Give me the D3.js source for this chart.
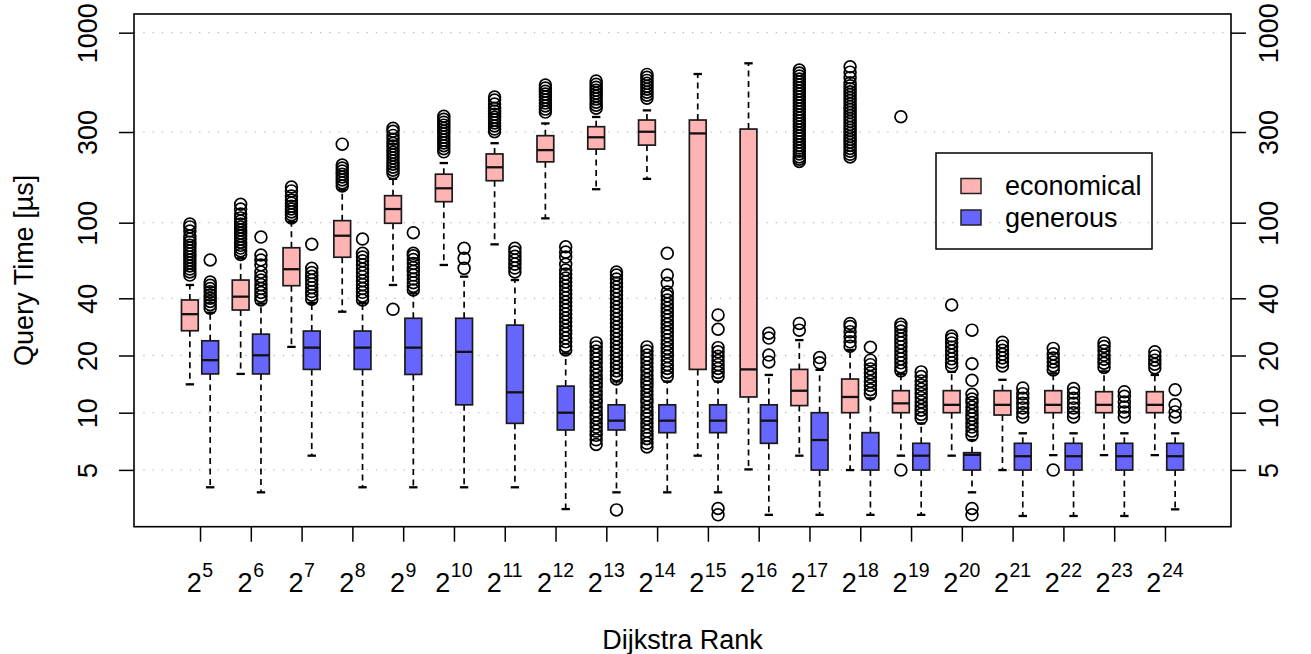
<!DOCTYPE html>
<html>
<head>
<meta charset="utf-8">
<script src="https://cdn.jsdelivr.net/npm/d3@7"></script>
<style>
body { margin: 0; background: #fff; }
svg { display: block; font-family: "Liberation Sans", Arial, sans-serif; }
</style>
</head>
<body>
<div id="chart"></div>
<script>
// Dijkstra rank exponents (2^k)
var ranks = [5, 6, 7, 8, 9, 10, 11, 12, 13, 14, 15, 16, 17, 18, 19, 20, 21, 22, 23, 24];
var yTicks = [5, 10, 20, 40, 100, 300, 1000];
var seriesNames = ["economical", "generous"];
var seriesColors = ["#FFB3B3", "#6666FF"];

// economical: whisker low, Q1, median, Q3, whisker high
var econLow  = [14.1, 16.0, 22.2, 34.0, 47.0, 59.9, 76.9, 105.4, 150, 170, 5.94, 5.03, 5.94, 4.99, 5.94, 5.94, 4.99, 5.98, 5.98, 5.98];
var econQ1   = [27.0, 34.7, 46.6, 65.8, 99.3, 129, 166.3, 209, 244, 256, 16.9, 12.1, 10.9, 10, 10, 10, 9.72, 10, 10, 10];
var econMed  = [33.0, 40.8, 56.9, 85.4, 118, 151.7, 195.7, 241, 281.5, 301, 295, 16.9, 13.05, 12.1, 11.2, 11.0, 11.0, 11.0, 11.0, 11.0];
var econQ3   = [39.2, 49.9, 73.8, 102.5, 138.7, 180, 230, 287, 320, 347, 347, 311, 16.9, 15.04, 13.06, 13.06, 13.06, 13.06, 12.9, 12.9];
var econHigh = [47.0, 65, 101, 149, 170, 206, 262, 333, 360, 390, 606, 690, 24.1, 21.4, 16, 16.4, 14.9, 16.1, 16.5, 15.8];
var econOut = [
    [53, 55, 57, 59.2, 61.4, 63.6, 66, 68.4, 71, 73.5, 76, 79, 82, 85, 90.4, 95, 98.3],
    [68, 71, 73.5, 76, 79, 82, 85, 88, 91.5, 95, 98.5, 102, 106, 111, 118, 125],
    [106, 110, 114, 118, 122, 127, 131.5, 138, 147, 154],
    [156, 162, 168, 174, 180, 187, 194, 201, 259],
    [35, 182, 189, 196, 203, 211, 219, 227, 235, 244, 253, 262, 275, 288, 303, 314],
    [236, 245, 254, 263, 272, 282, 293, 303, 314, 326, 338, 350, 363],
    [301, 311, 323, 335, 347, 359, 372, 386, 400, 421, 442, 458],
    [382, 396, 411, 426, 442, 458, 475, 492, 511, 530],
    [6.8, 7.2, 7.6, 8.0, 8.4, 8.8, 9.3, 9.7, 10.2, 10.7, 11.3, 11.8, 12.4, 13, 13.7, 14.3, 15, 15.8, 16.6, 17.4, 18.3, 19.2, 20.1, 21.1, 22.2, 23.3,
     400, 415, 431, 447, 463, 480, 498, 516, 535, 556],
    [6.6, 6.9, 7.3, 7.6, 8.0, 8.4, 8.8, 9.3, 9.7, 10.2, 10.7, 11.3, 11.8, 12.4, 13, 13.7, 14.3, 15, 15.8, 16.6, 17.4, 18.3, 19.2, 20.1, 21.1, 22.2,
     452, 469, 486, 504, 522, 541, 561, 582, 603],
    [],
    [],
    [27.2, 29.5, 210, 216, 222, 230, 238, 247, 256, 266, 276, 286, 296, 307, 319, 331, 343, 355, 369, 382, 396, 411, 426, 442, 458, 475, 493, 511, 530, 550, 570, 591, 613, 636],
    [22.4, 23.6, 25.1, 26.7, 28.4, 29.5, 222, 229, 238, 246, 255, 265, 274, 284, 295, 306, 317, 329, 341, 353, 366, 380, 394, 408, 423, 439, 455, 472, 489, 507, 526, 545, 580, 620, 662],
    [4.99, 16.6, 17.4, 18.3, 19.2, 20.1, 21.1, 22.2, 23.3, 24.4, 25.6, 26.9, 28.2, 29.2, 361],
    [17.5, 18.3, 19.2, 20.1, 21.1, 22.2, 23.3, 24.4, 25.3, 36.9],
    [17.6, 18.5, 19.4, 20.3, 21.3, 22.4, 23.5],
    [4.99, 16.8, 17.6, 18.5, 19.4, 20.4, 21.8],
    [17.3, 18.2, 19.1, 20.1, 21.2, 22.3, 23.3],
    [17.2, 18.0, 18.9, 19.9, 20.9]
];

// generous
var genLow  = [4.05, 3.81, 5.94, 4.05, 4.05, 4.05, 4.05, 3.11, 3.81, 3.81, 3.81, 2.9, 2.9, 2.9, 2.9, 3.81, 2.86, 2.86, 2.86, 3.1];
var genQ1   = [16.0, 16.0, 16.9, 16.9, 15.9, 11.0, 8.79, 8.11, 8.11, 7.85, 7.85, 6.9, 4.99, 4.99, 4.99, 4.99, 4.99, 4.99, 4.99, 4.99];
var genMed  = [18.9, 20.05, 22.0, 22.0, 22.0, 20.9, 12.8, 10, 9.08, 9.08, 9.08, 9.08, 7.18, 5.94, 5.94, 6.0, 5.9, 5.9, 5.9, 5.9];
var genQ3   = [23.9, 25.9, 26.9, 26.9, 31.4, 31.4, 28.9, 13.8, 11.0, 11.0, 11.0, 11.0, 10, 7.85, 6.9, 6.16, 6.9, 6.9, 6.9, 6.9];
var genHigh = [33.6, 37.5, 37.8, 37.8, 42.5, 52.0, 49.9, 20.5, 14.6, 14.6, 14.6, 15.8, 16.8, 11.9, 8.79, 7.18, 7.79, 7.79, 7.79, 7.79];
var genOut = [
    [35.5, 37, 38.5, 40, 41.6, 43.3, 45, 46.8, 48.7, 63.6],
    [39.2, 41, 42.9, 45, 47.2, 49.9, 52, 54.9, 59.9, 63.6, 67.6, 84],
    [39.6, 41.5, 43.4, 45.5, 47.5, 49.8, 52.2, 54.6, 57.5, 77],
    [39.2, 41, 43, 45, 47.2, 49.5, 52, 54.5, 57, 60, 63, 66, 69, 82],
    [44.2, 46.2, 48.3, 50.5, 53, 55.5, 58, 61, 64, 67, 69, 88.6],
    [57.5, 64.9, 73.3],
    [55, 57.7, 60.5, 63.5, 66.5, 70, 73.3],
    [21.4, 22.4, 23.6, 24.7, 26, 27.2, 28.6, 30.1, 31.5, 33.1, 34.7, 36.4, 38.2, 40.2, 42.2, 44.2, 46.5, 48.8, 51.2, 53.7, 56.4, 60.4, 65.9, 70, 74.7],
    [3.08, 15.04, 15.79, 16.58, 17.4, 18.26, 19.17, 20.12, 21.12, 22.17, 23.27, 24.43, 25.64, 26.91, 28.25, 29.65, 31.12, 32.67, 34.29, 35.99,
     37.78, 39.66, 41.63, 43.69, 45.86, 48.14, 50.53, 53.04, 55],
    [15.5, 16.3, 17.1, 17.9, 18.8, 19.8, 20.8, 21.8, 22.9, 24.1, 25.3, 26.5, 27.8, 29.2, 30.7, 32.2, 33.8, 35.5, 37.3, 39.2, 41.2, 43.2, 48, 53, 69],
    [2.9, 3.13, 15.5, 16.3, 17.1, 17.9, 18.8, 19.8, 20.9, 22, 27.5, 32.7],
    [18.5, 20.1, 24.7, 26.2],
    [18.3, 19.5],
    [12.6, 13.2, 13.9, 14.6, 15.4, 16.2, 17, 17.9, 18.9, 22.1],
    [9.34, 9.8, 10.3, 10.8, 11.4, 12, 12.6, 13.3, 14, 14.7, 15.5, 16.4],
    [2.9, 3.13, 7.6, 8.0, 8.4, 8.8, 9.3, 9.7, 10.2, 10.7, 11.3, 11.8, 12.5, 14.8, 18.1, 27.2],
    [9.5, 10.0, 10.6, 11.2, 11.9, 12.6, 13.5],
    [9.5, 10, 10.6, 11.2, 11.9, 12.7, 13.4],
    [9.5, 10.1, 10.7, 11.4, 12.2, 12.9],
    [9.5, 10.1, 11.0, 13.2]
];

function init() {

    var w = 1311;
    var h = 654;

    var left = 134, right = 1231, top = 14, bottom = 526.7;
    var fontSize = 27;

    var xScale = d3.scaleLinear()
                   .domain([-1.3, 20.3])
                   .range([left, right]);

    var yScale = d3.scaleLog()
                   .domain([2.512, 1254])
                   .range([bottom, top]);

    var offsets = [-0.2, 0.2];   // economical left, generous right
    var halfW = 0.165;           // half box width in group units

    var series = [
        { low: econLow, q1: econQ1, med: econMed, q3: econQ3, high: econHigh, out: econOut },
        { low: genLow,  q1: genQ1,  med: genMed,  q3: genQ3,  high: genHigh,  out: genOut }
    ];

    var svg = d3.select("#chart")
                .append("svg")
                .attr("width", w)
                .attr("height", h);

    // dotted grid
    svg.append("g")
       .selectAll("line")
       .data(yTicks)
       .enter()
       .append("line")
       .attr("x1", left)
       .attr("x2", right)
       .attr("y1", function(d) { return yScale(d); })
       .attr("y2", function(d) { return yScale(d); })
       .attr("stroke", "#bdbdbd")
       .attr("stroke-width", 1.3)
       .attr("stroke-dasharray", "1.3,8");

    series.forEach(function(s, k) {
        var g = svg.append("g");
        var color = seriesColors[k];
        var idx = d3.range(ranks.length);
        var cx = function(i) { return xScale(i + offsets[k]); };

        // dashed whiskers
        g.selectAll("line.wu")
         .data(idx).enter().append("line")
         .attr("x1", cx).attr("x2", cx)
         .attr("y1", function(i) { return yScale(s.q3[i]); })
         .attr("y2", function(i) { return yScale(s.high[i]); })
         .attr("stroke", "#000").attr("stroke-width", 1.7)
         .attr("stroke-dasharray", "6,4.5");
        g.selectAll("line.wl")
         .data(idx).enter().append("line")
         .attr("x1", cx).attr("x2", cx)
         .attr("y1", function(i) { return yScale(s.q1[i]); })
         .attr("y2", function(i) { return yScale(s.low[i]); })
         .attr("stroke", "#000").attr("stroke-width", 1.7)
         .attr("stroke-dasharray", "6,4.5");

        // staples
        ["low", "high"].forEach(function(key) {
            g.selectAll("line.c" + key)
             .data(idx).enter().append("line")
             .attr("x1", function(i) { return xScale(i + offsets[k] - halfW / 2); })
             .attr("x2", function(i) { return xScale(i + offsets[k] + halfW / 2); })
             .attr("y1", function(i) { return yScale(s[key][i]); })
             .attr("y2", function(i) { return yScale(s[key][i]); })
             .attr("stroke", "#000").attr("stroke-width", 2.3);
        });

        // boxes
        g.selectAll("rect")
         .data(idx).enter().append("rect")
         .attr("x", function(i) { return xScale(i + offsets[k] - halfW); })
         .attr("width", xScale(halfW * 2) - xScale(0))
         .attr("y", function(i) { return yScale(s.q3[i]); })
         .attr("height", function(i) { return yScale(s.q1[i]) - yScale(s.q3[i]); })
         .attr("fill", color)
         .attr("stroke", "#1a1a1a").attr("stroke-width", 1.7);

        // medians
        g.selectAll("line.m")
         .data(idx).enter().append("line")
         .attr("x1", function(i) { return xScale(i + offsets[k] - halfW); })
         .attr("x2", function(i) { return xScale(i + offsets[k] + halfW); })
         .attr("y1", function(i) { return yScale(s.med[i]); })
         .attr("y2", function(i) { return yScale(s.med[i]); })
         .attr("stroke", "#111").attr("stroke-width", 2.3);

        // outliers
        var pts = [];
        s.out.forEach(function(arr, i) {
            arr.forEach(function(v) { pts.push([i, v]); });
        });
        g.selectAll("circle")
         .data(pts).enter().append("circle")
         .attr("cx", function(d) { return cx(d[0]); })
         .attr("cy", function(d) { return yScale(d[1]); })
         .attr("r", 5.9)
         .attr("fill", "none")
         .attr("stroke", "#000")
         .attr("stroke-width", 1.7);
    });

    // plot frame
    svg.append("rect")
       .attr("x", left).attr("y", top)
       .attr("width", right - left).attr("height", bottom - top)
       .attr("fill", "none").attr("stroke", "#000").attr("stroke-width", 1.6);

    // y axes, both sides
    var yAxisL = d3.axisLeft(yScale).tickValues(yTicks).tickSize(15).tickFormat(d3.format("d"));
    var yAxisR = d3.axisRight(yScale).tickValues(yTicks).tickSize(15).tickFormat(d3.format("d"));

    var gl = svg.append("g").attr("transform", "translate(" + left + ",0)").call(yAxisL);
    var gr = svg.append("g").attr("transform", "translate(" + right + ",0)").call(yAxisR);

    [[gl, -37], [gr, 47]].forEach(function(p) {
        p[0].select(".domain").remove();
        p[0].selectAll(".tick line").attr("stroke-width", 1.5);
        p[0].selectAll(".tick text")
            .attr("x", 0).attr("y", p[1]).attr("dy", null)
            .attr("transform", "rotate(-90)")
            .attr("text-anchor", "middle")
            .attr("fill", "#000")
            .style("font-size", fontSize + "px")
            .style("font-family", "Liberation Sans, Arial, sans-serif");
    });

    // x axis with 2^k labels
    var xAxis = d3.axisBottom(xScale)
                  .tickValues(d3.range(ranks.length))
                  .tickSize(15)
                  .tickFormat("");
    var gx = svg.append("g").attr("transform", "translate(0," + bottom + ")").call(xAxis);
    gx.select(".domain").remove();
    gx.selectAll(".tick line").attr("stroke-width", 1.5);

    var lbl = svg.append("g")
                 .selectAll("text")
                 .data(ranks)
                 .enter()
                 .append("text")
                 .attr("x", function(d, i) { return xScale(i); })
                 .attr("y", 592)
                 .attr("text-anchor", "middle")
                 .style("font-size", fontSize + "px");
    lbl.append("tspan").text("2");
    lbl.append("tspan")
       .attr("dx", 0.5)
       .attr("dy", -15.5)
       .style("font-size", "19.5px")
       .text(function(d) { return d; });

    // axis titles
    svg.append("text")
       .attr("x", (left + right) / 2)
       .attr("y", 649)
       .attr("text-anchor", "middle")
       .style("font-size", fontSize + "px")
       .text("Dijkstra Rank");

    svg.append("text")
       .attr("transform", "translate(33," + ((top + bottom) / 2) + ") rotate(-90)")
       .attr("text-anchor", "middle")
       .style("font-size", fontSize + "px")
       .text("Query Time [µs]");

    // legend
    var lg = svg.append("g");
    lg.append("rect")
      .attr("x", 936).attr("y", 153)
      .attr("width", 216).attr("height", 96)
      .attr("fill", "none").attr("stroke", "#000").attr("stroke-width", 1.5);
    seriesNames.forEach(function(name, k) {
        var cy = 186 + k * 31.5;
        lg.append("rect")
          .attr("x", 961).attr("y", cy - 7.5)
          .attr("width", 20).attr("height", 15)
          .attr("fill", seriesColors[k])
          .attr("stroke", "#222").attr("stroke-width", 1.5);
        lg.append("text")
          .attr("x", 1005).attr("y", cy + 9)
          .style("font-size", fontSize + "px")
          .text(name);
    });
}

window.onload = init;
</script>
</body>
</html>
